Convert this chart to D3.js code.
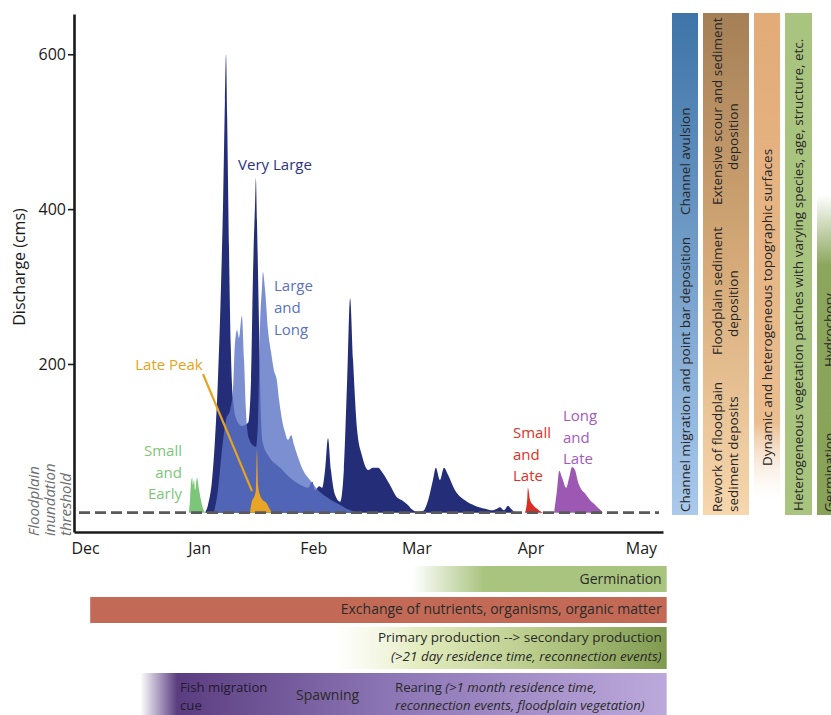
<!DOCTYPE html>
<html>
<head>
<meta charset="utf-8">
<script src="https://cdn.jsdelivr.net/npm/d3@7"></script>
<style>
  html, body { margin: 0; padding: 0; background: #fff; }
  svg { display: block; font-family: "Open Sans", sans-serif; }
</style>
</head>
<body>
<svg id="chart" width="831" height="715"></svg>
<script>
// ---------------- data ----------------
const months = ["Dec", "Jan", "Feb", "Mar", "Apr", "May"];
const monthStartDay = [0, 31, 62, 90, 121, 151];      // days after 1 December
const yTickValues = [200, 400, 600];
const inundationThreshold = 8;                        // cms

// hydrographs: [day after 1 Dec, discharge (cms)]
const smallEarly = [
  [28.2, 8], [28.5, 24], [28.8, 48], [29.1, 53], [29.3, 44], [29.6, 50],
  [29.9, 37], [30.4, 53], [31.0, 37], [31.5, 24], [32.0, 14], [32.6, 8]
];
const veryLarge = [
  [32.6, 8], [33.4, 18], [34.5, 50], [35.3, 102], [36.1, 180], [36.9, 295],
  [37.5, 410], [38.0, 540], [38.3, 600], [38.6, 520], [39.1, 350], [39.6, 220],
  [40.2, 155], [41.0, 130], [42.6, 120], [44.3, 124], [45.1, 180], [45.6, 310],
  [46.2, 410], [46.4, 440], [46.7, 385], [47.3, 240], [47.8, 130], [48.3, 98],
  [50.2, 79], [53.0, 66], [55.7, 53], [58.4, 44], [60.6, 40], [61.7, 48],
  [62.5, 37], [63.6, 42], [64.4, 40], [65.2, 63], [66.0, 104], [66.8, 63],
  [67.9, 31], [69.3, 22], [70.3, 63], [71.2, 179], [72.0, 285], [72.8, 205],
  [73.9, 115], [75.2, 82], [76.9, 63], [78.2, 66], [79.6, 66], [80.9, 59],
  [82.8, 44], [84.7, 28], [86.1, 24], [87.7, 18], [89.1, 11], [90.4, 9],
  [91.8, 10], [93.2, 24], [94.5, 50], [95.3, 66], [96.4, 50], [97.5, 66],
  [98.6, 57], [100.5, 37], [103.2, 24], [105.9, 17], [108.7, 13], [110.6, 11],
  [111.9, 13], [112.7, 15], [113.8, 11], [114.9, 17], [115.7, 13], [116.8, 8]
];
const largeLong = [
  [35.0, 8], [36.1, 37], [37.2, 89], [38.3, 128], [39.4, 141], [40.2, 166],
  [40.7, 225], [41.3, 244], [41.8, 234], [42.6, 262], [43.2, 205], [43.7, 141],
  [44.5, 104], [45.6, 95], [46.4, 93], [47.0, 128], [47.5, 244], [48.1, 302],
  [48.3, 319], [48.9, 296], [49.7, 244], [50.5, 216], [51.3, 192], [52.1, 179],
  [52.7, 154], [53.5, 128], [54.3, 112], [55.1, 102], [56.0, 108], [56.8, 95],
  [57.9, 79], [59.2, 63], [61.1, 50], [63.3, 37], [66.0, 27], [69.3, 18],
  [72.0, 11], [74.2, 8]
];
const latePeak = [
  [44.8, 8], [45.4, 24], [45.9, 28], [46.4, 37], [46.7, 89], [47.0, 44],
  [47.5, 31], [48.3, 24], [49.2, 21], [50.0, 14], [50.8, 8]
];
const smallLate = [
  [119.5, 8], [120.1, 24], [120.3, 40], [120.9, 24], [121.7, 18],
  [122.8, 13], [123.9, 9], [124.4, 8]
];
const longLate = [
  [127.4, 8], [128.2, 37], [128.8, 62], [129.6, 53], [130.7, 40], [131.5, 53],
  [132.3, 67], [133.1, 63], [133.9, 48], [134.7, 39], [135.8, 33], [137.2, 24],
  [138.8, 17], [140.7, 8]
];

// floodplain processes along the season: start day of each
const processStart = { germination: 89, exchange: 1.4, production: 68, fish: 15 };
const seasonEnd = 158;

// ---------------- layout ----------------
const svg = d3.select("#chart");
const defs = svg.append("defs");

const x = d3.scaleLinear().domain([-3, 157]).range([74, 663]);
const y = d3.scaleLinear().domain([-17, 652]).range([532, 14]);

const area = d3.area()
  .x(d => x(d[0]))
  .y0(y(inundationThreshold))
  .y1(d => y(d[1]))
  .curve(d3.curveMonotoneX);

// hydrograph areas
const plot = svg.append("g");
plot.append("path").datum(veryLarge).attr("d", area).attr("fill", "#242d78");
plot.append("path").datum(largeLong).attr("d", area).attr("fill", "#5b73c4").attr("fill-opacity", 0.8);
plot.append("path").datum(latePeak).attr("d", area).attr("fill", "#e8a624");
plot.append("path").datum(smallEarly).attr("d", area).attr("fill", "#7cc67a");
plot.append("path").datum(smallLate).attr("d", area).attr("fill", "#dd2c24");
plot.append("path").datum(longLate).attr("d", area).attr("fill", "#9d58b4");

// inundation threshold
svg.append("line")
  .attr("x1", x.range()[0] + 5).attr("x2", x.range()[1] - 4)
  .attr("y1", y(inundationThreshold)).attr("y2", y(inundationThreshold))
  .attr("stroke", "#5a5a5a").attr("stroke-width", 2.6)
  .attr("stroke-dasharray", "11,5");

// axes
const yAxis = svg.append("g")
  .attr("transform", `translate(${x.range()[0]},0)`)
  .call(d3.axisLeft(y).tickValues(yTickValues).tickSize(6).tickSizeOuter(0).tickPadding(2));
const xAxis = svg.append("g")
  .attr("transform", `translate(0,${y.range()[0]})`)
  .call(d3.axisBottom(x).tickValues(monthStartDay).tickFormat((d, i) => months[i])
        .tickSize(0).tickSizeOuter(0).tickPadding(11));
[yAxis, xAxis].forEach(a => {
  a.select(".domain").attr("stroke", "#1a1a1a").attr("stroke-width", 2.6);
  a.selectAll(".tick line").attr("stroke", "#1a1a1a").attr("stroke-width", 1.6);
  a.selectAll(".tick text").attr("font-family", "Open Sans").attr("font-size", 16).attr("fill", "#1a1a1a");
});

svg.append("text")
  .attr("transform", "translate(25,267) rotate(-90)")
  .attr("text-anchor", "middle").attr("font-size", 16).attr("fill", "#1a1a1a")
  .text("Discharge (cms)");

["Floodplain", "inundation", "threshold"].forEach((t, i) => {
  svg.append("text")
    .attr("transform", `translate(${39 + i * 16},536) rotate(-90)`)
    .attr("font-size", 15).attr("font-style", "italic").attr("fill", "#6e6e6e")
    .text(t);
});

// event labels
function label(lines, px, py, anchor, color, gap = 21.5) {
  const t = svg.append("text").attr("font-size", 15).attr("fill", color)
    .attr("text-anchor", anchor);
  lines.forEach((s, i) => t.append("tspan").attr("x", px).attr("y", py + i * gap).text(s));
}
label(["Very Large"], 275, 170, "middle", "#2b3382");
label(["Large", "and", "Long"], 274, 291, "start", "#5a71c4", 22);
label(["Late Peak"], 169, 370, "middle", "#e5a322");
label(["Small", "and", "Early"], 182, 456, "end", "#7cc67a");
label(["Small", "and", "Late"], 513, 438, "start", "#dc3227");
label(["Long", "and", "Late"], 563, 421, "start", "#a35bbf");

// leader from "Late Peak" to its hydrograph
svg.append("line")
  .attr("x1", 203).attr("y1", 374)
  .attr("x2", x(latePeak[2][0]) - 2).attr("y2", y(latePeak[2][1]) - 6)
  .attr("stroke", "#e5a322").attr("stroke-width", 2.2);

// ---------------- gradients ----------------
function grad(id, stops, vertical) {
  const g = defs.append("linearGradient").attr("id", id)
    .attr("x1", 0).attr("y1", 0).attr("x2", vertical ? 0 : 1).attr("y2", vertical ? 1 : 0);
  stops.forEach(([o, c, op]) => g.append("stop").attr("offset", o)
    .attr("stop-color", c).attr("stop-opacity", op === undefined ? 1 : op));
}
grad("gGerm", [[0, "#a9c47f", 0], [0.28, "#a9c47f"], [1, "#a9c47f"]]);
grad("gProd", [[0, "#eef3d4", 0], [0.25, "#e3ecbf"], [0.6, "#b9cc8a"], [1, "#7f9a4f"]]);
grad("gFish", [[0, "#5a3d80", 0], [0.07, "#5a3d80"], [0.45, "#8a73b3"], [1, "#bca9db"]]);
grad("vBlue", [[0, "#3e74a8"], [1, "#aac9eb"]], true);
grad("vBrown", [[0, "#a57f56"], [0.5, "#d6aa78"], [1, "#f7d7ae"]], true);
grad("vPeach", [[0, "#e2ab78"], [0.84, "#ebbd8f"], [1, "#fbeee0", 0]], true);
grad("vDark", [[0, "#8ca65d", 0], [0.22, "#8ca65d"], [1, "#88a258"]], true);

// ---------------- process bars (bottom) ----------------
const barEnd = x(seasonEnd);
const procRows = [
  { key: "germination", y: 566, h: 26, fill: "url(#gGerm)" },
  { key: "exchange",    y: 597, h: 26, fill: "#c26a56" },
  { key: "production",  y: 627, h: 42, fill: "url(#gProd)" },
  { key: "fish",        y: 673, h: 42, fill: "url(#gFish)" }
];
svg.append("g").selectAll("rect").data(procRows).join("rect")
  .attr("x", d => x(processStart[d.key]))
  .attr("width", d => barEnd - x(processStart[d.key]))
  .attr("y", d => d.y).attr("height", d => d.h)
  .attr("fill", d => d.fill);

const bt = svg.append("g").attr("font-size", 14).attr("fill", "#2a2a2a");
bt.append("text").attr("x", barEnd - 5).attr("y", 584).attr("text-anchor", "end").text("Germination");
bt.append("text").attr("x", barEnd - 5).attr("y", 614).attr("text-anchor", "end")
  .text("Exchange of nutrients, organisms, organic matter");
bt.append("text").attr("x", barEnd - 5).attr("y", 642).attr("text-anchor", "end")
  .attr("font-size", 13.5).text("Primary production --> secondary production");
bt.append("text").attr("x", barEnd - 5).attr("y", 661).attr("text-anchor", "end")
  .attr("font-size", 13.5).attr("font-style", "italic")
  .text("(>21 day residence time, reconnection events)");

// fish row: two-line labels set a little tighter
const fr = svg.append("g").attr("font-size", 13.2).attr("fill", "#2a2a2a");
fr.append("text").attr("x", 180).attr("y", 692).attr("fill", "#221a30").text("Fish migration");
fr.append("text").attr("x", 180).attr("y", 710).attr("fill", "#221a30").text("cue");
fr.append("text").attr("x", 296).attr("y", 700).attr("font-size", 14).text("Spawning");
const rear1 = fr.append("text").attr("x", 395).attr("y", 692);
rear1.append("tspan").text("Rearing ");
rear1.append("tspan").attr("font-style", "italic").text("(>1 month residence time,");
fr.append("text").attr("x", 395).attr("y", 710).attr("font-style", "italic")
  .text("reconnection events, floodplain vegetation)");

// ---------------- outcome columns (right) ----------------
const cols = [
  { x: 672, w: 26, top: 13, bottom: 515, fill: "url(#vBlue)" },
  { x: 703, w: 46, top: 13, bottom: 515, fill: "url(#vBrown)" },
  { x: 754, w: 26, top: 13, bottom: 500, fill: "url(#vPeach)" },
  { x: 785, w: 27, top: 13, bottom: 515, fill: "#a9c47f" },
  { x: 817, w: 20, top: 195, bottom: 515, fill: "url(#vDark)" }
];
svg.append("g").selectAll("rect").data(cols).join("rect")
  .attr("x", d => d.x).attr("y", d => d.top)
  .attr("width", d => d.w).attr("height", d => d.bottom - d.top)
  .attr("fill", d => d.fill);

const colText = [
  ["Channel migration and point bar deposition", 690, 512],
  ["Channel avulsion", 690, 215],
  ["Rework of floodplain", 722, 512],
  ["sediment deposits", 738, 512],
  ["Floodplain sediment", 722, 355],
  ["deposition", 738, 337],
  ["Extensive scour and sediment", 722, 205],
  ["deposition", 738, 170],
  ["Dynamic and heterogeneous topographic surfaces", 772, 466],
  ["Heterogeneous vegetation patches with varying species, age, structure, etc.", 803, 511],
  ["Germination", 834, 512],
  ["Hydrochory", 834, 367]
];
svg.append("g").attr("font-size", 13.5).attr("fill", "#262626")
  .selectAll("text").data(colText).join("text")
  .attr("transform", d => `translate(${d[1]},${d[2]}) rotate(-90)`)
  .text(d => d[0]);
</script>
</body>
</html>
